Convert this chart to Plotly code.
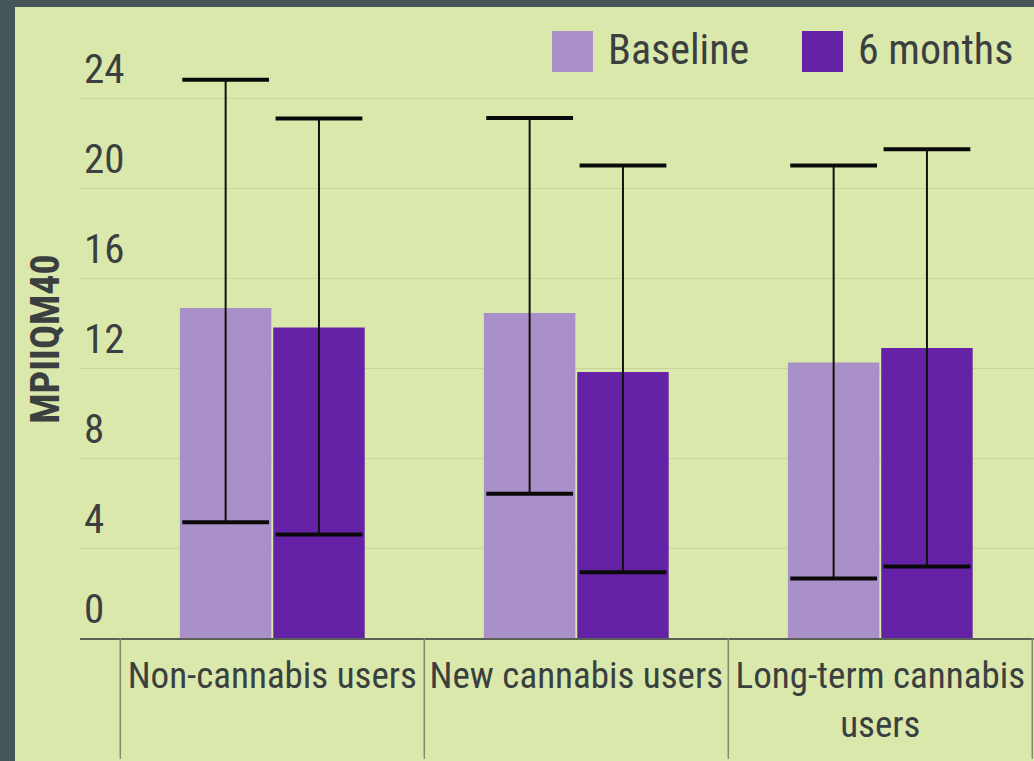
import plotly.graph_objects as go

# ---- data -------------------------------------------------------------
groups = ["Non-cannabis users", "New cannabis users", "Long-term cannabis<br>users"]
series_names = ["Baseline", "6 months"]

baseline = [14.67, 14.44, 12.25]
baseline_err_up = [10.14, 8.67, 8.75]
baseline_err_down = [9.53, 8.03, 9.60]

six_months = [13.80, 11.82, 12.89]
six_months_err_up = [9.29, 9.18, 8.83]
six_months_err_down = [9.20, 8.90, 9.71]

y_ticks = [0, 4, 8, 12, 16, 20, 24]
y_title = "MPIIQM40"

# ---- style ------------------------------------------------------------
W, H = 1034, 761
ML, MR, MT, MB = 80, 0, 40, 123
BG = "#dbe8ac"
FRAME = "#465658"
TEXT = "#3a4040"
GRID = "#c8d69e"
COL_BASE = "#aa90c8"
COL_6M = "#6522a7"
FONT = "Liberation Sans Narrow, Roboto Condensed, DejaVu Sans Condensed, Arial Narrow, sans-serif"

PW, PH = W - ML - MR, H - MT - MB


def px_x(px):
    return (px - ML) / PW


def px_y(py):
    return (H - MB - py) / PH


fig = go.Figure()

for name, vals, up, down, col in [
    (series_names[0], baseline, baseline_err_up, baseline_err_down, COL_BASE),
    (series_names[1], six_months, six_months_err_up, six_months_err_down, COL_6M),
]:
    fig.add_trace(go.Bar(
        name=name, x=groups, y=vals, marker=dict(color=col, line=dict(width=0)),
        error_y=dict(type="data", symmetric=False, array=up, arrayminus=down,
                     thickness=2, width=0, color="#111111"),
        showlegend=False, hoverinfo="skip",
    ))

# heavier crossbars at the ends of each error bar
for name, vals, up, down in [
    (series_names[0], baseline, baseline_err_up, baseline_err_down),
    (series_names[1], six_months, six_months_err_up, six_months_err_down),
]:
    ends = [v + u for v, u in zip(vals, up)] + [v - d for v, d in zip(vals, down)]
    fig.add_trace(go.Scatter(
        x=groups + groups, y=ends, mode="markers",
        marker=dict(symbol="line-ew", size=62, line=dict(width=4, color="#0a0a0a")),
        showlegend=False, hoverinfo="skip", cliponaxis=False,
    ))

shapes = []
# dark frame along the left and top edges
shapes.append(dict(type="rect", xref="paper", yref="paper", layer="above",
                   x0=px_x(-2), x1=px_x(15), y0=px_y(H + 2), y1=px_y(-2),
                   fillcolor=FRAME, line=dict(width=0)))
shapes.append(dict(type="rect", xref="paper", yref="paper", layer="above",
                   x0=px_x(-2), x1=px_x(W + 2), y0=px_y(7), y1=px_y(-2),
                   fillcolor=FRAME, line=dict(width=0)))
# category separators below the axis
for i in range(len(groups) + 1):
    shapes.append(dict(type="line", xref="x", yref="paper",
                       x0=i - 0.5, x1=i - 0.5, y0=0, y1=px_y(759),
                       line=dict(color="#7f8c70", width=1.5)))

# legend
annotations = []
for name, col, sx in [(series_names[0], COL_BASE, 552), (series_names[1], COL_6M, 802)]:
    shapes.append(dict(type="rect", xref="paper", yref="paper",
                       x0=px_x(sx), x1=px_x(sx + 41), y0=px_y(72), y1=px_y(31),
                       fillcolor=col, line=dict(width=0)))
    annotations.append(dict(text=name, xref="paper", yref="paper",
                            x=px_x(sx + 54), y=px_y(50), xanchor="left", yanchor="middle",
                            showarrow=False, font=dict(family=FONT, size=42, color=TEXT)))

fig.update_layout(
    width=W, height=H,
    margin=dict(l=ML, r=MR, t=MT, b=MB, pad=0, autoexpand=False),
    paper_bgcolor=BG, plot_bgcolor=BG,
    barmode="group", bargap=0.386, bargroupgap=0.02,
    scattermode="group", scattergap=0.386,
    shapes=shapes, annotations=annotations,
    font=dict(family=FONT, color=TEXT),
    xaxis=dict(
        type="category", range=[-0.6326, 2.5056], automargin=False,
        showgrid=False, zeroline=False,
        showline=True, linecolor="#5b6155", linewidth=2,
        ticks="", tickangle=0, ticklabelstandoff=4,
        tickfont=dict(family=FONT, size=37, color=TEXT),
        fixedrange=True,
    ),
    yaxis=dict(
        range=[0, PH / 22.5], tickvals=y_ticks, ticktext=[str(t) for t in y_ticks],
        automargin=False,
        showgrid=True, gridcolor=GRID, gridwidth=1, zeroline=False,
        showline=False, ticks="",
        ticklabelposition="inside", ticklabelshift=-29, ticklabelstandoff=1,
        tickfont=dict(family=FONT, size=41, color=TEXT),
        title=dict(text=y_title, standoff=12,
                   font=dict(family=FONT, size=40, color=TEXT, weight="bold")),
        fixedrange=True,
    ),
)

fig.write_html("out.html")
